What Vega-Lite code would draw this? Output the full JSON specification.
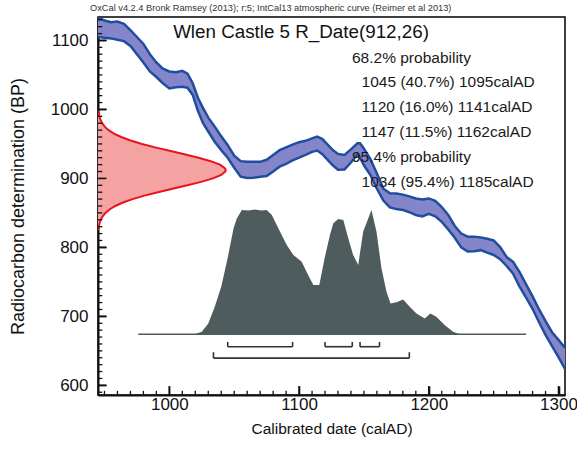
{
  "$schema": "https://vega.github.io/schema/vega-lite/v6.json",
  "width": 467,
  "height": 378,
  "autosize": "none",
  "padding": {"left": 98, "top": 17, "right": 12, "bottom": 58},
  "background": "white",
  "config": {"view": {"stroke": "black", "strokeWidth": 1.5}, "font": "Liberation Sans"},
  "title": {"text": "OxCal v4.2.4 Bronk Ramsey (2013); r:5; IntCal13 atmospheric curve (Reimer et al 2013)", "anchor": "start", "frame": "group", "fontSize": 9.25, "fontWeight": "normal", "font": "Liberation Sans", "color": "#333", "offset": 4, "dx": -8},
  "datasets": {
    "curve": [
      {"date": 945, "upper": 1133, "lower": 1105},
      {"date": 950, "upper": 1129, "lower": 1104},
      {"date": 955, "upper": 1126.5, "lower": 1103},
      {"date": 960, "upper": 1127.5, "lower": 1101},
      {"date": 965, "upper": 1124, "lower": 1099},
      {"date": 970, "upper": 1115, "lower": 1092},
      {"date": 975, "upper": 1105, "lower": 1080},
      {"date": 980, "upper": 1095, "lower": 1068},
      {"date": 985, "upper": 1080, "lower": 1055},
      {"date": 990, "upper": 1068, "lower": 1047},
      {"date": 995, "upper": 1059, "lower": 1038},
      {"date": 1000, "upper": 1055, "lower": 1030.5},
      {"date": 1005, "upper": 1054, "lower": 1032},
      {"date": 1010, "upper": 1056, "lower": 1033},
      {"date": 1014, "upper": 1052, "lower": 1031.5},
      {"date": 1018, "upper": 1038, "lower": 1021},
      {"date": 1022, "upper": 1017, "lower": 998},
      {"date": 1026, "upper": 1002, "lower": 980},
      {"date": 1030, "upper": 988, "lower": 968},
      {"date": 1035, "upper": 975, "lower": 953},
      {"date": 1040, "upper": 961, "lower": 941},
      {"date": 1045, "upper": 948, "lower": 930},
      {"date": 1050, "upper": 933, "lower": 915.5},
      {"date": 1055, "upper": 925, "lower": 902.5},
      {"date": 1060, "upper": 924, "lower": 900.5},
      {"date": 1065, "upper": 924, "lower": 901},
      {"date": 1070, "upper": 924, "lower": 902.5},
      {"date": 1075, "upper": 927, "lower": 903.6},
      {"date": 1080, "upper": 934, "lower": 910},
      {"date": 1085, "upper": 941, "lower": 917},
      {"date": 1090, "upper": 945, "lower": 921},
      {"date": 1095, "upper": 949, "lower": 926},
      {"date": 1100, "upper": 952.5, "lower": 930},
      {"date": 1105, "upper": 954.5, "lower": 934},
      {"date": 1110, "upper": 958, "lower": 938.5},
      {"date": 1114, "upper": 960.7, "lower": 940.4},
      {"date": 1118, "upper": 957, "lower": 935},
      {"date": 1122, "upper": 949, "lower": 927},
      {"date": 1126, "upper": 941, "lower": 919},
      {"date": 1130, "upper": 935.5, "lower": 912.5},
      {"date": 1135, "upper": 934, "lower": 913},
      {"date": 1140, "upper": 942, "lower": 923},
      {"date": 1145, "upper": 951, "lower": 935},
      {"date": 1147, "upper": 951, "lower": 930},
      {"date": 1150, "upper": 943, "lower": 919},
      {"date": 1155, "upper": 928, "lower": 905},
      {"date": 1160, "upper": 907, "lower": 885},
      {"date": 1165, "upper": 885, "lower": 868},
      {"date": 1170, "upper": 878.5, "lower": 858},
      {"date": 1175, "upper": 878, "lower": 855.5},
      {"date": 1180, "upper": 876.5, "lower": 854.3},
      {"date": 1185, "upper": 874, "lower": 851},
      {"date": 1190, "upper": 871, "lower": 847},
      {"date": 1195, "upper": 869.5, "lower": 844.8},
      {"date": 1200, "upper": 871, "lower": 848.5},
      {"date": 1205, "upper": 867.5, "lower": 845},
      {"date": 1210, "upper": 858.5, "lower": 837},
      {"date": 1215, "upper": 847, "lower": 826},
      {"date": 1220, "upper": 831, "lower": 814},
      {"date": 1225, "upper": 820, "lower": 800},
      {"date": 1230, "upper": 815.6, "lower": 794},
      {"date": 1235, "upper": 815.6, "lower": 794.5},
      {"date": 1240, "upper": 814.5, "lower": 796},
      {"date": 1245, "upper": 812.5, "lower": 792.5},
      {"date": 1250, "upper": 810, "lower": 789},
      {"date": 1255, "upper": 800.5, "lower": 783},
      {"date": 1260, "upper": 786, "lower": 773},
      {"date": 1265, "upper": 779, "lower": 762},
      {"date": 1270, "upper": 764, "lower": 743},
      {"date": 1275, "upper": 746.5, "lower": 727},
      {"date": 1280, "upper": 729, "lower": 711},
      {"date": 1285, "upper": 710, "lower": 691.5},
      {"date": 1290, "upper": 693, "lower": 673},
      {"date": 1295, "upper": 677, "lower": 657},
      {"date": 1300, "upper": 666, "lower": 641},
      {"date": 1305, "upper": 654, "lower": 624}
    ],
    "red": [
      {"bp": 825, "date": 945.3},
      {"bp": 830, "date": 945.7},
      {"bp": 835, "date": 946.2},
      {"bp": 840, "date": 947.1},
      {"bp": 845, "date": 948.6},
      {"bp": 850, "date": 950.7},
      {"bp": 855, "date": 953.9},
      {"bp": 860, "date": 958.3},
      {"bp": 865, "date": 964.2},
      {"bp": 870, "date": 971.7},
      {"bp": 875, "date": 980.8},
      {"bp": 880, "date": 991.2},
      {"bp": 885, "date": 1002.4},
      {"bp": 890, "date": 1013.9},
      {"bp": 895, "date": 1024.5},
      {"bp": 900, "date": 1033.6},
      {"bp": 905, "date": 1040.0},
      {"bp": 910, "date": 1043.2},
      {"bp": 912, "date": 1043.5},
      {"bp": 915, "date": 1042.8},
      {"bp": 920, "date": 1039.0},
      {"bp": 925, "date": 1031.9},
      {"bp": 930, "date": 1022.5},
      {"bp": 935, "date": 1011.6},
      {"bp": 940, "date": 1000.2},
      {"bp": 945, "date": 989.0},
      {"bp": 950, "date": 978.9},
      {"bp": 955, "date": 970.1},
      {"bp": 960, "date": 962.9},
      {"bp": 965, "date": 957.3},
      {"bp": 970, "date": 953.2},
      {"bp": 975, "date": 950.2},
      {"bp": 980, "date": 948.2},
      {"bp": 985, "date": 946.9},
      {"bp": 990, "date": 946.1},
      {"bp": 995, "date": 945.6},
      {"bp": 998, "date": 945.3}
    ],
    "post": [
      {"date": 1015, "bp": 674},
      {"date": 1020, "bp": 674.5},
      {"date": 1025, "bp": 677.7},
      {"date": 1030, "bp": 689.8},
      {"date": 1035, "bp": 714},
      {"date": 1040, "bp": 743},
      {"date": 1045, "bp": 785},
      {"date": 1049.5, "bp": 827.7},
      {"date": 1052, "bp": 842},
      {"date": 1055.9, "bp": 854.3},
      {"date": 1061, "bp": 853.3},
      {"date": 1066, "bp": 854.8},
      {"date": 1071, "bp": 853.3},
      {"date": 1075, "bp": 854.3},
      {"date": 1079, "bp": 847},
      {"date": 1084, "bp": 827.7},
      {"date": 1090.5, "bp": 803.5},
      {"date": 1095.6, "bp": 789},
      {"date": 1102, "bp": 779.3},
      {"date": 1107, "bp": 760},
      {"date": 1111, "bp": 745.4},
      {"date": 1115.6, "bp": 745.4},
      {"date": 1120, "bp": 787},
      {"date": 1123.8, "bp": 818},
      {"date": 1126.4, "bp": 834.9},
      {"date": 1130.2, "bp": 841.2},
      {"date": 1134.1, "bp": 839.8},
      {"date": 1137.9, "bp": 813.1},
      {"date": 1141.7, "bp": 789},
      {"date": 1145.6, "bp": 774.5},
      {"date": 1149.4, "bp": 822.8},
      {"date": 1155.8, "bp": 854.3},
      {"date": 1159.7, "bp": 822.8},
      {"date": 1163.5, "bp": 769.6},
      {"date": 1167.4, "bp": 735.7},
      {"date": 1170.5, "bp": 718.8},
      {"date": 1175.1, "bp": 720.3},
      {"date": 1180.2, "bp": 724.6},
      {"date": 1185.3, "bp": 714},
      {"date": 1190.5, "bp": 704.3},
      {"date": 1196.9, "bp": 697},
      {"date": 1201.2, "bp": 704.3},
      {"date": 1205.8, "bp": 699.5},
      {"date": 1212.2, "bp": 687.4},
      {"date": 1218.7, "bp": 677.7},
      {"date": 1223.8, "bp": 674}
    ],
    "ranges": [
      {"level": "68.2%", "from": 1045, "to": 1095},
      {"level": "68.2%", "from": 1120, "to": 1141},
      {"level": "68.2%", "from": 1147, "to": 1162},
      {"level": "95.4%", "from": 1034, "to": 1185}
    ],
    "notes": [
      {"label": "68.2% probability", "date": 1140.8, "bp": 1067.2},
      {"label": "1045 (40.7%) 1095calAD", "date": 1148.2, "bp": 1033.2},
      {"label": "1120 (16.0%) 1141calAD", "date": 1148.2, "bp": 996.9},
      {"label": "1147 (11.5%) 1162calAD", "date": 1148.2, "bp": 960.7},
      {"label": "95.4% probability", "date": 1140.8, "bp": 924.4},
      {"label": "1034 (95.4%) 1185calAD", "date": 1148.2, "bp": 888.1}
    ],
    "xticks": [
      {"date": 950, "kind": "minor"}, {"date": 960, "kind": "minor"}, {"date": 970, "kind": "minor"}, {"date": 980, "kind": "minor"}, {"date": 990, "kind": "minor"},
      {"date": 1000, "kind": "major"},
      {"date": 1010, "kind": "minor"}, {"date": 1020, "kind": "minor"}, {"date": 1030, "kind": "minor"}, {"date": 1040, "kind": "minor"}, {"date": 1050, "kind": "minor"},
      {"date": 1060, "kind": "minor"}, {"date": 1070, "kind": "minor"}, {"date": 1080, "kind": "minor"}, {"date": 1090, "kind": "minor"},
      {"date": 1100, "kind": "major"},
      {"date": 1110, "kind": "minor"}, {"date": 1120, "kind": "minor"}, {"date": 1130, "kind": "minor"}, {"date": 1140, "kind": "minor"}, {"date": 1150, "kind": "minor"},
      {"date": 1160, "kind": "minor"}, {"date": 1170, "kind": "minor"}, {"date": 1180, "kind": "minor"}, {"date": 1190, "kind": "minor"},
      {"date": 1200, "kind": "major"},
      {"date": 1210, "kind": "minor"}, {"date": 1220, "kind": "minor"}, {"date": 1230, "kind": "minor"}, {"date": 1240, "kind": "minor"}, {"date": 1250, "kind": "minor"},
      {"date": 1260, "kind": "minor"}, {"date": 1270, "kind": "minor"}, {"date": 1280, "kind": "minor"}, {"date": 1290, "kind": "minor"},
      {"date": 1300, "kind": "major"}
    ],
    "yticks": [
      {"bp": 590, "kind": "minor"},
      {"bp": 600, "kind": "major"},
      {"bp": 610, "kind": "minor"}, {"bp": 620, "kind": "minor"}, {"bp": 630, "kind": "minor"}, {"bp": 640, "kind": "minor"}, {"bp": 650, "kind": "minor"},
      {"bp": 660, "kind": "minor"}, {"bp": 670, "kind": "minor"}, {"bp": 680, "kind": "minor"}, {"bp": 690, "kind": "minor"},
      {"bp": 700, "kind": "major"},
      {"bp": 710, "kind": "minor"}, {"bp": 720, "kind": "minor"}, {"bp": 730, "kind": "minor"}, {"bp": 740, "kind": "minor"}, {"bp": 750, "kind": "minor"},
      {"bp": 760, "kind": "minor"}, {"bp": 770, "kind": "minor"}, {"bp": 780, "kind": "minor"}, {"bp": 790, "kind": "minor"},
      {"bp": 800, "kind": "major"},
      {"bp": 810, "kind": "minor"}, {"bp": 820, "kind": "minor"}, {"bp": 830, "kind": "minor"}, {"bp": 840, "kind": "minor"}, {"bp": 850, "kind": "minor"},
      {"bp": 860, "kind": "minor"}, {"bp": 870, "kind": "minor"}, {"bp": 880, "kind": "minor"}, {"bp": 890, "kind": "minor"},
      {"bp": 900, "kind": "major"},
      {"bp": 910, "kind": "minor"}, {"bp": 920, "kind": "minor"}, {"bp": 930, "kind": "minor"}, {"bp": 940, "kind": "minor"}, {"bp": 950, "kind": "minor"},
      {"bp": 960, "kind": "minor"}, {"bp": 970, "kind": "minor"}, {"bp": 980, "kind": "minor"}, {"bp": 990, "kind": "minor"},
      {"bp": 1000, "kind": "major"},
      {"bp": 1010, "kind": "minor"}, {"bp": 1020, "kind": "minor"}, {"bp": 1030, "kind": "minor"}, {"bp": 1040, "kind": "minor"}, {"bp": 1050, "kind": "minor"},
      {"bp": 1060, "kind": "minor"}, {"bp": 1070, "kind": "minor"}, {"bp": 1080, "kind": "minor"}, {"bp": 1090, "kind": "minor"},
      {"bp": 1100, "kind": "major"},
      {"bp": 1110, "kind": "minor"}, {"bp": 1120, "kind": "minor"}, {"bp": 1130, "kind": "minor"}
    ]
  },
  "resolve": {"axis": {"x": "independent", "y": "independent"}},
  "layer": [
    {
      "data": {"name": "curve"},
      "mark": {"type": "area", "fill": "#8585c9", "clip": true},
      "encoding": {
        "x": {"field": "date", "type": "quantitative", "scale": {"domain": [945, 1305], "nice": false, "zero": false},
          "axis": {"orient": "bottom", "values": [1000, 1100, 1200, 1300], "format": "d", "tickSize": -9, "tickWidth": 1.6, "tickColor": "#111111", "domain": true, "domainColor": "#111111", "domainWidth": 2, "labelFont": "Liberation Sans Narrow, Liberation Sans", "labelFontSize": 17, "labelColor": "#111", "labelPadding": 10, "grid": false, "title": "Calibrated date (calAD)", "titleFont": "Liberation Sans", "titleFontSize": 15.5, "titleFontWeight": "normal", "titleColor": "#111", "titleY": 26, "titleBaseline": "top"}},
        "y": {"field": "upper", "type": "quantitative", "scale": {"domain": [586, 1134], "nice": false, "zero": false},
          "axis": {"orient": "left", "values": [600, 700, 800, 900, 1000, 1100], "format": "d", "tickSize": -8, "tickWidth": 1.6, "tickColor": "#111111", "domain": true, "domainColor": "#111111", "domainWidth": 2, "labelFont": "Liberation Sans Narrow, Liberation Sans", "labelFontSize": 17, "labelColor": "#111", "labelPadding": 18, "grid": false, "title": "Radiocarbon determination (BP)", "titleFont": "Liberation Sans", "titleFontSize": 18, "titleFontWeight": "normal", "titleColor": "#111", "titleX": -80, "titleY": 189, "titleBaseline": "middle"}},
        "y2": {"field": "lower"}
      }
    },
    {
      "data": {"name": "curve"},
      "mark": {"type": "line", "stroke": "#1f4e9f", "strokeWidth": 2.5, "clip": true},
      "encoding": {
        "x": {"field": "date", "type": "quantitative", "axis": null},
        "y": {"field": "upper", "type": "quantitative", "axis": null}
      }
    },
    {
      "data": {"name": "curve"},
      "mark": {"type": "line", "stroke": "#1f4e9f", "strokeWidth": 2.5, "clip": true},
      "encoding": {
        "x": {"field": "date", "type": "quantitative", "axis": null},
        "y": {"field": "lower", "type": "quantitative", "axis": null}
      }
    },
    {
      "data": {"name": "red"},
      "mark": {"type": "area", "orient": "horizontal", "fill": "#f4a2a2", "clip": true},
      "encoding": {
        "y": {"field": "bp", "type": "quantitative", "axis": null},
        "x": {"field": "date", "type": "quantitative", "axis": null},
        "x2": {"datum": 945}
      }
    },
    {
      "data": {"name": "red"},
      "mark": {"type": "line", "stroke": "#e8141c", "strokeWidth": 2, "clip": true},
      "encoding": {
        "y": {"field": "bp", "type": "quantitative", "axis": null},
        "x": {"field": "date", "type": "quantitative", "axis": null},
        "order": {"field": "bp", "type": "quantitative"}
      }
    },
    {
      "data": {"name": "xticks"},
      "transform": [{"filter": "datum.kind == 'major'"}],
      "mark": {"type": "rule", "color": "#111111", "strokeWidth": 1.6},
      "encoding": {
        "x": {"field": "date", "type": "quantitative", "axis": null},
        "y": {"datum": 586, "type": "quantitative", "axis": null},
        "y2": {"datum": 599}
      }
    },
    {
      "data": {"name": "xticks"},
      "transform": [{"filter": "datum.kind == 'minor'"}],
      "mark": {"type": "rule", "color": "#111111", "strokeWidth": 1.3},
      "encoding": {
        "x": {"field": "date", "type": "quantitative", "axis": null},
        "y": {"datum": 586, "type": "quantitative", "axis": null},
        "y2": {"datum": 592}
      }
    },
    {
      "data": {"name": "yticks"},
      "transform": [{"filter": "datum.kind == 'major'"}],
      "mark": {"type": "rule", "color": "#111111", "strokeWidth": 1.6},
      "encoding": {
        "y": {"field": "bp", "type": "quantitative", "axis": null},
        "x": {"datum": 945, "type": "quantitative", "axis": null},
        "x2": {"datum": 951.5}
      }
    },
    {
      "data": {"name": "yticks"},
      "transform": [{"filter": "datum.kind == 'minor'"}],
      "mark": {"type": "rule", "color": "#111111", "strokeWidth": 1.3},
      "encoding": {
        "y": {"field": "bp", "type": "quantitative", "axis": null},
        "x": {"datum": 945, "type": "quantitative", "axis": null},
        "x2": {"datum": 948.3}
      }
    },
    {
      "data": {"values": [{}]},
      "mark": {"type": "rule", "color": "#4f5c5e", "strokeWidth": 1.5},
      "encoding": {
        "x": {"datum": 976, "type": "quantitative", "axis": null},
        "x2": {"datum": 1275},
        "y": {"datum": 674, "type": "quantitative", "axis": null}
      }
    },
    {
      "data": {"name": "post"},
      "mark": {"type": "area", "fill": "#4f5c5e"},
      "encoding": {
        "x": {"field": "date", "type": "quantitative", "axis": null},
        "y": {"field": "bp", "type": "quantitative", "axis": null},
        "y2": {"datum": 674}
      }
    },
    {
      "data": {"name": "ranges"},
      "transform": [{"filter": "datum.level == '68.2%'"}],
      "mark": {"type": "rule", "color": "#333", "strokeWidth": 1.6},
      "encoding": {
        "x": {"field": "from", "type": "quantitative", "axis": null},
        "x2": {"field": "to"},
        "y": {"datum": 656, "type": "quantitative", "axis": null}
      }
    },
    {
      "data": {"name": "ranges"},
      "transform": [{"filter": "datum.level == '68.2%'"}, {"fold": ["from", "to"], "as": ["end", "date"]}],
      "mark": {"type": "rule", "color": "#333", "strokeWidth": 1.6},
      "encoding": {
        "x": {"field": "date", "type": "quantitative", "axis": null},
        "y": {"datum": 656, "type": "quantitative", "axis": null},
        "y2": {"datum": 663}
      }
    },
    {
      "data": {"name": "ranges"},
      "transform": [{"filter": "datum.level == '95.4%'"}],
      "mark": {"type": "rule", "color": "#333", "strokeWidth": 1.6},
      "encoding": {
        "x": {"field": "from", "type": "quantitative", "axis": null},
        "x2": {"field": "to"},
        "y": {"datum": 639.5, "type": "quantitative", "axis": null}
      }
    },
    {
      "data": {"name": "ranges"},
      "transform": [{"filter": "datum.level == '95.4%'"}, {"fold": ["from", "to"], "as": ["end", "date"]}],
      "mark": {"type": "rule", "color": "#333", "strokeWidth": 1.6},
      "encoding": {
        "x": {"field": "date", "type": "quantitative", "axis": null},
        "y": {"datum": 639.5, "type": "quantitative", "axis": null},
        "y2": {"datum": 648}
      }
    },
    {
      "data": {"name": "notes"},
      "mark": {"type": "text", "align": "left", "baseline": "alphabetic", "font": "Liberation Sans", "fontSize": 15.5, "color": "#1a1a1a"},
      "encoding": {
        "x": {"field": "date", "type": "quantitative", "axis": null},
        "y": {"field": "bp", "type": "quantitative", "axis": null},
        "text": {"field": "label"}
      }
    },
    {
      "data": {"values": [{"label": "Wlen Castle 5 R_Date(912,26)", "date": 1101.5, "bp": 1103.9}]},
      "mark": {"type": "text", "align": "center", "baseline": "alphabetic", "font": "Liberation Sans", "fontSize": 18.8, "color": "#111"},
      "encoding": {
        "x": {"field": "date", "type": "quantitative", "axis": null},
        "y": {"field": "bp", "type": "quantitative", "axis": null},
        "text": {"field": "label"}
      }
    }
  ]
}
